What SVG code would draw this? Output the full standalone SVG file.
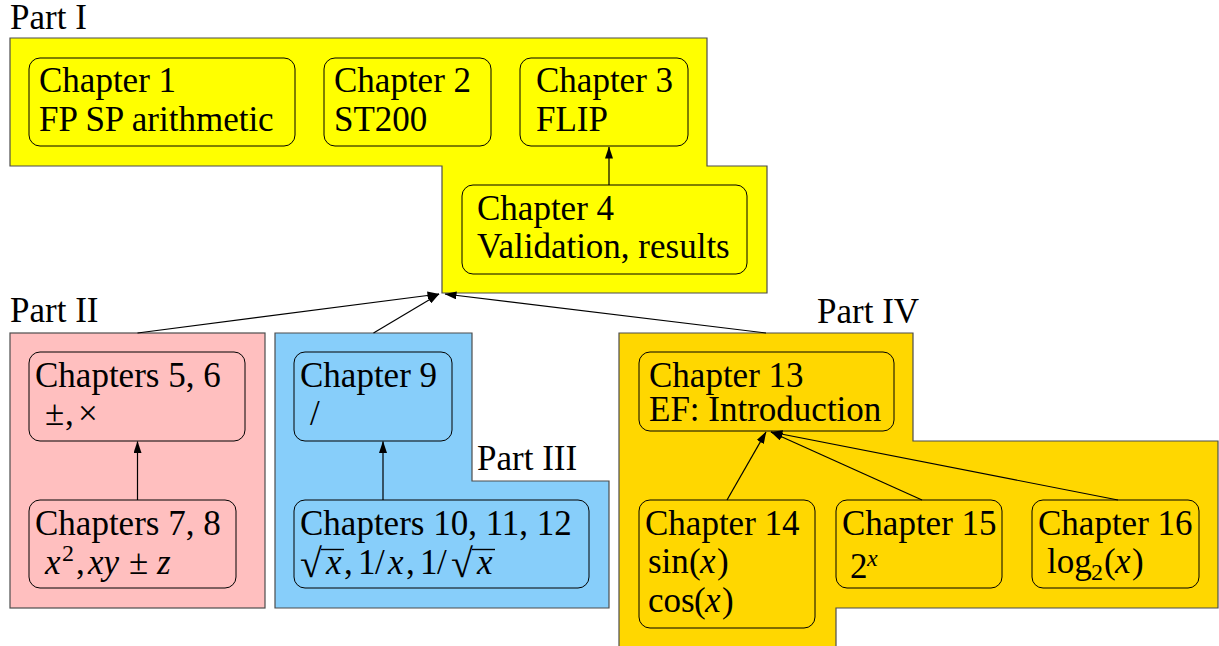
<svg xmlns="http://www.w3.org/2000/svg" width="1219" height="646" viewBox="0 0 1219 646">
  <defs>
    <style>
      text { font-family: 'Liberation Serif', serif; font-size: 35px; fill: #000; }
      .i { font-style: italic; }
      .sm { font-size: 24px; }
      .rad { font-size: 40px; }
      .part { stroke: #4d4d4d; stroke-width: 1.2; }
      .box { fill: none; stroke: #000; stroke-width: 1; }
      .bar { stroke: #000; stroke-width: 1.4; }
      #edges line { stroke: #000; stroke-width: 1.2; fill: none; marker-end: url(#ah); }
    </style>
    <marker id="ah" markerUnits="userSpaceOnUse" markerWidth="12" markerHeight="8" refX="11.5" refY="4" orient="auto">
      <path d="M0,0 L12,4 L0,8 Z" fill="#000"/>
    </marker>
  </defs>

  <!-- Part backgrounds -->
  <g id="part1">
    <path class="part" d="M10,38 H707 V166 H767 V293 H442 V166 H10 Z" fill="#ffff00"/>
    <text x="10" y="29">Part I</text>
  </g>
  <g id="part2">
    <rect class="part" x="10" y="333" width="255" height="275" fill="#ffbfbf"/>
    <text x="10" y="322">Part II</text>
  </g>
  <g id="part3">
    <path class="part" d="M275,333 H472 V481 H609 V608 H275 Z" fill="#87cefa"/>
    <text x="477" y="470">Part III</text>
  </g>
  <g id="part4">
    <path class="part" d="M619,333 H913 V441 H1218 V608 H836 V652 H619 Z" fill="#ffd700"/>
    <text x="817" y="323">Part IV</text>
  </g>

  <!-- Chapter nodes -->
  <g id="ch1">
    <rect class="box" x="29" y="58" width="266" height="88" rx="11"/>
    <text x="39" y="92">Chapter 1</text>
    <text x="39" y="131">FP SP arithmetic</text>
  </g>
  <g id="ch2">
    <rect class="box" x="324" y="58" width="167" height="88" rx="11"/>
    <text x="334" y="92">Chapter 2</text>
    <text x="334" y="131">ST200</text>
  </g>
  <g id="ch3">
    <rect class="box" x="520" y="58" width="168" height="88" rx="11"/>
    <text x="536" y="92">Chapter 3</text>
    <text x="536" y="131">FLIP</text>
  </g>
  <g id="ch4">
    <rect class="box" x="462" y="185" width="285" height="89" rx="11"/>
    <text x="477" y="220">Chapter 4</text>
    <text x="477" y="258">Validation, results</text>
  </g>
  <g id="ch5-6">
    <rect class="box" x="29" y="352" width="216" height="89" rx="11"/>
    <text x="35" y="387">Chapters 5, 6</text>
    <text y="425"><tspan x="45">±</tspan><tspan x="65">,</tspan><tspan x="78">×</tspan></text>
  </g>
  <g id="ch7-8">
    <rect class="box" x="29" y="500" width="207" height="88" rx="11"/>
    <text x="35" y="535">Chapters 7, 8</text>
    <text y="574"><tspan x="45" class="i">x</tspan><tspan x="62" y="561" class="sm">2</tspan><tspan x="76" y="574">,</tspan><tspan x="88" class="i">xy</tspan><tspan x="129">±</tspan><tspan x="157" class="i">z</tspan></text>
  </g>
  <g id="ch9">
    <rect class="box" x="294" y="352" width="158" height="89" rx="11"/>
    <text x="300" y="387">Chapter 9</text>
    <text x="310" y="425">/</text>
  </g>
  <g id="ch10-12">
    <rect class="box" x="294" y="500" width="295" height="88" rx="11"/>
    <text x="300" y="535">Chapters 10, 11, 12</text>
    <text y="574"><tspan x="300" y="577" class="rad">√</tspan><tspan x="326" y="574" class="i">x</tspan><tspan x="344">,</tspan><tspan x="358">1</tspan><tspan x="375">/</tspan><tspan x="388" class="i">x</tspan><tspan x="406">,</tspan><tspan x="420">1</tspan><tspan x="437">/</tspan><tspan x="451" y="577" class="rad">√</tspan><tspan x="477" y="574" class="i">x</tspan></text>
    <line class="bar" x1="321" y1="549.5" x2="344" y2="549.5"/>
    <line class="bar" x1="472" y1="549.5" x2="495" y2="549.5"/>
  </g>
  <g id="ch13">
    <rect class="box" x="639" y="352" width="255" height="79" rx="11"/>
    <text x="649" y="387">Chapter 13</text>
    <text x="649" y="421">EF: Introduction</text>
  </g>
  <g id="ch14">
    <rect class="box" x="639" y="500" width="176" height="128" rx="11"/>
    <text x="645" y="535">Chapter 14</text>
    <text y="573"><tspan x="648">sin</tspan><tspan x="689">(</tspan><tspan x="700" class="i">x</tspan><tspan x="717">)</tspan></text>
    <text y="612"><tspan x="648">cos</tspan><tspan x="694">(</tspan><tspan x="705" class="i">x</tspan><tspan x="722">)</tspan></text>
  </g>
  <g id="ch15">
    <rect class="box" x="836" y="500" width="166" height="88" rx="11"/>
    <text x="842" y="535">Chapter 15</text>
    <text y="578"><tspan x="850">2</tspan><tspan x="867" y="566" class="sm i">x</tspan></text>
  </g>
  <g id="ch16">
    <rect class="box" x="1032" y="500" width="167" height="88" rx="11"/>
    <text x="1038" y="535">Chapter 16</text>
    <text y="573"><tspan x="1047">log</tspan><tspan x="1091" y="580" class="sm">2</tspan><tspan x="1104" y="573">(</tspan><tspan x="1115" class="i">x</tspan><tspan x="1132">)</tspan></text>
  </g>

  <!-- Dependencies -->
  <g id="edges">
    <line x1="609" y1="185" x2="609" y2="147"/>
    <line x1="137.5" y1="500" x2="137.5" y2="441.5"/>
    <line x1="383" y1="500" x2="383" y2="441.5"/>
    <line x1="137.5" y1="333" x2="439" y2="294"/>
    <line x1="373.5" y1="333" x2="439" y2="294"/>
    <line x1="766" y1="333" x2="445" y2="294"/>
    <line x1="727" y1="500" x2="766" y2="432"/>
    <line x1="922" y1="500" x2="771" y2="432"/>
    <line x1="1118" y1="500" x2="771" y2="432"/>
  </g>
</svg>
